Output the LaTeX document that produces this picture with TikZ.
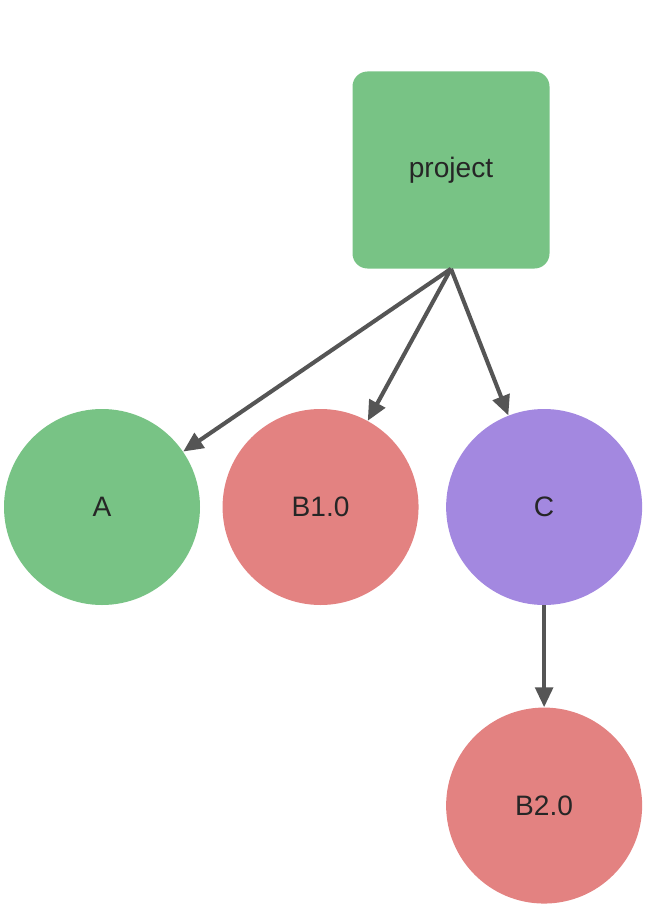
\documentclass[tikz,border=0pt]{standalone}
\usepackage{fontspec}
\setmainfont{Liberation Sans}
\usetikzlibrary{arrows.meta,positioning}
\definecolor{LeafGreen}{HTML}{78C385}
\definecolor{SoftRed}{HTML}{E38281}
\definecolor{SoftViolet}{HTML}{A388E0}
\definecolor{InkGray}{HTML}{555555}

\begin{document}
\begin{tikzpicture}[
  every node/.style={font=\fontsize{20}{24}\selectfont, text=black!85},
  pkgbox/.style={rounded corners=0.375cm, minimum width=4.925cm, minimum height=4.925cm, inner sep=0pt},
  pkgdot/.style={circle, minimum size=4.9cm, inner sep=0pt},
  dep/.style={line width=2.9pt, draw=InkGray, -{Triangle[length=0.5cm,width=0.44cm]}}]
\useasboundingbox (0,0) rectangle (16.15,-22.75);
\node[pkgbox,fill=LeafGreen] (project) at (11.275,-4.25) {project};
\node[pkgdot,fill=LeafGreen] (a) at (2.55,-12.675) {A};
\node[pkgdot,fill=SoftRed,right=0.55cm of a] (b10) {B1.0};
\node[pkgdot,fill=SoftViolet,right=0.675cm of b10] (c) {C};
\node[pkgdot,fill=SoftRed,below=2.55cm of c] (b20) {B2.0};
\draw[dep] (project.south) -- (a);
\draw[dep] (project.south) -- (b10);
\draw[dep] (project.south) -- (c);
\draw[dep] (c) -- (b20);
\end{tikzpicture}
\end{document}
